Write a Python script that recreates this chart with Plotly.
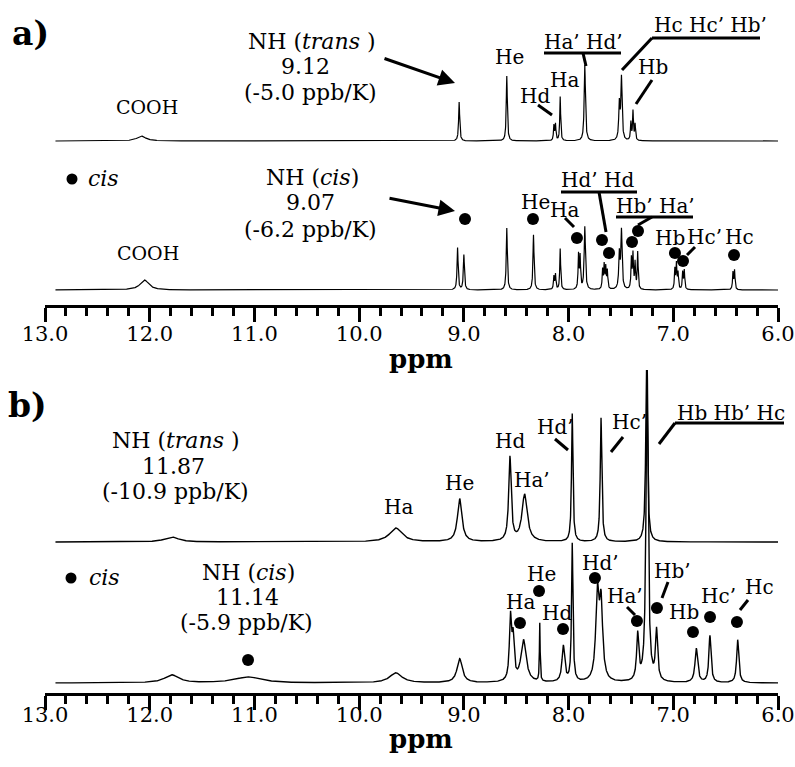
import numpy as np
import plotly.graph_objects as go

W, H = 795, 767

# ---------------- DATA (peak lists) ----------------
# heights are in pixel units above each trace's baseline, half-widths in ppm
a_trans_ppm = [12.08, 9.045, 8.59, 8.14, 8.125, 8.08, 7.845, 7.515, 7.495, 7.405, 7.385, 7.365]
a_trans_h = [5, 39, 65, 15, 16, 44, 76, 36, 62, 18, 29, 16]
a_trans_w = [0.05, 0.006, 0.006, 0.005, 0.005, 0.005, 0.007, 0.007, 0.007, 0.005, 0.005, 0.005]

a_cis_ppm = [12.05, 9.06, 9.0, 8.59, 8.335, 8.14, 8.125, 8.08, 7.905, 7.89, 7.845,
             7.675, 7.66, 7.645, 7.63, 7.515, 7.495, 7.40, 7.385, 7.365, 7.34,
             6.985, 6.97, 6.955, 6.91, 6.895, 6.43, 6.415]
a_cis_h = [10, 42, 35, 62, 55, 13, 15, 41, 34, 32, 63,
           19, 23, 21, 18, 35, 58, 30, 34, 26, 37,
           20, 25, 16, 17, 19, 17, 19]
a_cis_w = [0.05, 0.006, 0.006, 0.006, 0.006, 0.005, 0.005, 0.005, 0.005, 0.005, 0.007,
           0.005, 0.005, 0.005, 0.005, 0.007, 0.007, 0.005, 0.005, 0.005, 0.005,
           0.005, 0.005, 0.005, 0.005, 0.005, 0.005, 0.005]

b_trans_ppm = [11.79, 9.65, 9.04, 8.56, 8.42, 7.965, 7.69, 7.255]
b_trans_h = [5, 14, 43, 84, 47, 128, 124, 175]
b_trans_w = [0.08, 0.07, 0.025, 0.014, 0.03, 0.008, 0.009, 0.01]

b_cis_ppm = [11.79, 11.06, 9.65, 9.04, 8.555, 8.53, 8.43, 8.275, 8.05, 7.965,
             7.725, 7.69, 7.34, 7.25, 7.16, 6.78, 6.65, 6.385]
b_cis_h = [8, 6, 10, 24, 62, 40, 42, 58, 36, 138,
           85, 75, 46, 320, 50, 34, 47, 43]
b_cis_w = [0.08, 0.15, 0.07, 0.03, 0.012, 0.012, 0.03, 0.004, 0.015, 0.008,
           0.018, 0.018, 0.012, 0.012, 0.012, 0.015, 0.012, 0.012]

# trace baselines (pixel units above the panel's ppm axis)
a_trans_base, a_cis_base = 164, 15
b_trans_base, b_cis_base = 151, 10

# cis markers (ppm, height above axis)
a_dot_ppm = [8.989, 8.340, 7.920, 7.681, 7.614, 7.337, 7.394, 6.984, 6.907, 6.420]
a_dot_y = [86, 86, 67, 65, 52, 74, 63, 52, 44, 50]
b_dot_ppm = [11.061, 8.464, 8.282, 8.053, 7.748, 7.347, 7.156, 6.812, 6.649, 6.392]
b_dot_y = [33, 70, 102, 64, 115, 72, 85, 61, 76, 71]

tick_vals = [13.0, 12.0, 11.0, 10.0, 9.0, 8.0, 7.0, 6.0]
tick_text = ["13.0", "12.0", "11.0", "10.0", "9.0", "8.0", "7.0", "6.0"]

# ---------------- helpers ----------------
grid = np.arange(12.90, 5.95, -0.001)


def spectrum(ppm, h, w, base):
    y = np.full_like(grid, float(base))
    for p, hh, ww in zip(ppm, h, w):
        y += hh / (1.0 + ((grid - p) / ww) ** 2)
    return y


def px(x):
    return x / W


def py(y):
    return 1 - y / H


FONT = "DejaVu Serif"

fig = go.Figure()

line_a = dict(color="black", width=1.2)
line_b = dict(color="black", width=1.4)
fig.add_trace(go.Scatter(x=grid, y=spectrum(a_trans_ppm, a_trans_h, a_trans_w, a_trans_base),
                         mode="lines", line=line_a, xaxis="x", yaxis="y", hoverinfo="skip"))
fig.add_trace(go.Scatter(x=grid, y=spectrum(a_cis_ppm, a_cis_h, a_cis_w, a_cis_base),
                         mode="lines", line=line_a, xaxis="x", yaxis="y", hoverinfo="skip"))
fig.add_trace(go.Scatter(x=grid, y=spectrum(b_trans_ppm, b_trans_h, b_trans_w, b_trans_base),
                         mode="lines", line=line_b, xaxis="x2", yaxis="y2", hoverinfo="skip"))
fig.add_trace(go.Scatter(x=grid, y=spectrum(b_cis_ppm, b_cis_h, b_cis_w, b_cis_base),
                         mode="lines", line=line_b, xaxis="x2", yaxis="y2", hoverinfo="skip"))
fig.add_trace(go.Scatter(x=a_dot_ppm, y=a_dot_y, mode="markers", xaxis="x", yaxis="y",
                         marker=dict(color="black", size=12), cliponaxis=False, hoverinfo="skip"))
fig.add_trace(go.Scatter(x=b_dot_ppm, y=b_dot_y, mode="markers", xaxis="x2", yaxis="y2",
                         marker=dict(color="black", size=12), cliponaxis=False, hoverinfo="skip"))

xdom = [px(45), px(778)]
axis_common = dict(
    range=[13.0, 6.0], domain=xdom, automargin=False,
    showline=True, linecolor="black", linewidth=3,
    ticks="outside", ticklen=14, tickwidth=3, tickcolor="black",
    tickmode="array", tickvals=tick_vals, ticktext=tick_text,
    tickfont=dict(family=FONT, size=21, color="black"),
    minor=dict(ticks="outside", ticklen=8, tickwidth=3, tickcolor="black",
               tickmode="linear", tick0=6.0, dtick=0.2),
    showgrid=False, zeroline=False, fixedrange=True,
)

fig.update_layout(
    width=W, height=H,
    margin=dict(l=0, r=0, t=0, b=0, autoexpand=False),
    paper_bgcolor="white", plot_bgcolor="white",
    font=dict(family=FONT, color="black"),
    showlegend=False, hovermode=False,
    xaxis=dict(anchor="y", ticklabelstandoff=-6, **axis_common),
    xaxis2=dict(anchor="y2", ticklabelstandoff=-13, **axis_common),
    yaxis=dict(domain=[py(305), 1], range=[0, 305], visible=False, fixedrange=True),
    yaxis2=dict(domain=[py(693), py(370)], range=[0, 323], visible=False, fixedrange=True),
)

annotations = []


def txt(t, x, y, size, bold=False):
    if bold:
        t = "<b>" + t + "</b>"
    annotations.append(dict(text=t, x=px(x), y=py(y), xref="paper", yref="paper",
                            xanchor="center", yanchor="middle", showarrow=False,
                            font=dict(family=FONT, size=size, color="black")))


NH = 22   # stacked NH labels
PK = 20   # peak labels

# panel a
txt("a)", 30, 33, 33, bold=True)
txt("NH (<i>trans</i> )", 312, 41, NH)
txt("9.12", 305, 67, NH)
txt("(-5.0 ppb/K)", 310, 93, NH)
txt("COOH", 147, 107, 19)
txt("He", 509, 57, PK)
txt("Hd", 535, 96, PK)
txt("Ha", 564, 80, PK)
txt("Ha’ Hd’", 583, 42, PK)
txt("Hc Hc’ Hb’", 710, 25, PK)
txt("Hb", 653, 67, PK)
txt("<i>cis</i>", 103, 178, 22)
txt("NH (<i>cis</i>)", 312, 177, NH)
txt("9.07", 310, 203, NH)
txt("(-6.2 ppb/K)", 310, 229, NH)
txt("COOH", 148, 253, 19)
txt("He", 535, 202, PK)
txt("Ha", 564, 210, PK)
txt("Hd’ Hd", 597, 180, PK)
txt("Hb’ Ha’", 655, 206, PK)
txt("Hb", 670, 238, PK)
txt("Hc’", 704, 237, PK)
txt("Hc", 739, 237, PK)
txt("ppm", 421, 359, 26, bold=True)

# panel b
txt("b)", 27, 406, 33, bold=True)
txt("NH (<i>trans</i> )", 176, 440, NH)
txt("11.87", 173, 466, NH)
txt("(-10.9 ppb/K)", 175, 491, NH)
txt("Ha", 398, 507, PK)
txt("He", 459, 483, PK)
txt("Hd", 510, 441, PK)
txt("Ha’", 532, 480, PK)
txt("Hd’", 555, 427, PK)
txt("Hc’", 629, 422, PK)
txt("Hb Hb’ Hc", 731, 413, PK)
txt("<i>cis</i>", 104, 577, 22)
txt("NH (<i>cis</i>)", 248, 572, NH)
txt("11.14", 247, 597, NH)
txt("(-5.9 ppb/K)", 246, 622, NH)
txt("Ha", 520, 602, PK)
txt("He", 541, 574, PK)
txt("Hd", 557, 613, PK)
txt("Hd’", 600, 563, PK)
txt("Ha’", 625, 596, PK)
txt("Hb’", 672, 571, PK)
txt("Hb", 684, 612, PK)
txt("Hc’", 718, 596, PK)
txt("Hc", 759, 587, PK)
txt("ppm", 421, 739, 26, bold=True)


def arrow(tail, head):
    annotations.append(dict(text="", x=px(head[0]), y=py(head[1]), xref="paper", yref="paper",
                            ax=tail[0] - head[0], ay=tail[1] - head[1],
                            showarrow=True, arrowhead=2, arrowsize=1.1, arrowwidth=3,
                            arrowcolor="black", standoff=0, startstandoff=0))


arrow((383, 58), (455, 83))
arrow((388, 198), (455, 211))

fig.update_layout(annotations=annotations)

shapes = []


def seg(x0, y0, x1, y1, w=3):
    shapes.append(dict(type="line", xref="paper", yref="paper",
                       x0=px(x0), y0=py(y0), x1=px(x1), y1=py(y1),
                       line=dict(color="black", width=w)))


# panel a leaders / bars
seg(538, 105, 552, 115)
seg(544, 53, 621, 53)
seg(583, 53, 586, 66)
seg(652, 38, 760, 38)
seg(652, 38, 622, 70)
seg(652, 80, 636, 104)
seg(565, 218, 574, 227)
seg(561, 192, 637, 192)
seg(599, 192, 606, 232)
seg(616, 217, 693, 217)
seg(652, 217, 638, 225)
seg(695, 247, 687, 255)
# panel b leaders / bars
seg(555, 439, 568, 450)
seg(623, 437, 611, 452)
seg(675, 423, 784, 423)
seg(675, 423, 659, 444)
seg(627, 607, 635, 615)
seg(668, 582, 662, 598)
seg(748, 600, 740, 610)

# legend dots
for cx, cy in [(72, 179), (71, 578)]:
    r = 5.5
    shapes.append(dict(type="circle", xref="paper", yref="paper",
                       x0=px(cx - r), x1=px(cx + r), y0=py(cy + r), y1=py(cy - r),
                       fillcolor="black", line=dict(color="black", width=0)))

fig.update_layout(shapes=shapes)

fig.write_html("out.html")
